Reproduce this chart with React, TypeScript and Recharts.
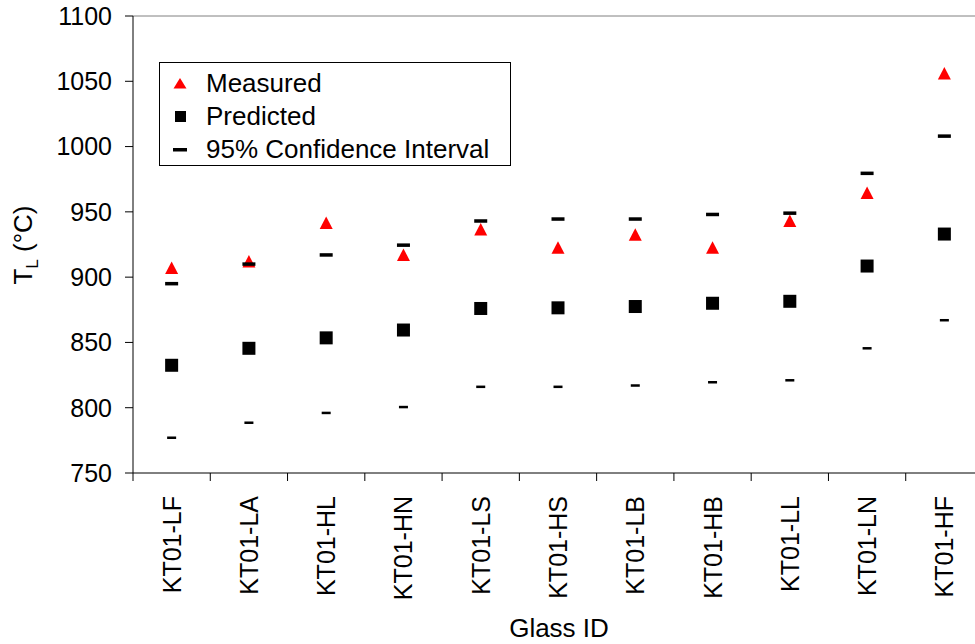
import {
  ScatterChart,
  Scatter,
  XAxis,
  YAxis,
  Legend,
  ReferenceLine,
} from 'recharts'

const FONT = '"Liberation Sans", Arial, sans-serif'

const categories = [
  'KT01-LF', 'KT01-LA', 'KT01-HL', 'KT01-HN', 'KT01-LS', 'KT01-HS',
  'KT01-LB', 'KT01-HB', 'KT01-LL', 'KT01-LN', 'KT01-HF',
]
const measured = [907, 912, 941.5, 917, 936.5, 922.5, 932.5, 922.5, 943, 964.5, 1056]
const predicted = [832.5, 845.5, 853.5, 859.5, 876, 876.5, 877.5, 880, 881.5, 908.5, 933]
const ciUpper = [895, 910, 917, 924.5, 943, 944.5, 944.5, 948, 949, 979.5, 1008]
const ciLower = [777, 788.5, 796, 800.5, 816, 816, 817, 819.5, 821, 845.5, 867]
const yTicks = [750, 800, 850, 900, 950, 1000, 1050, 1100]

// category i sits in the middle of band [i, i+1]
const toPoints = (vals: number[]) => vals.map((v, i) => ({ x: i + 0.5, y: v }))
const xTicks = Array.from({ length: categories.length * 2 + 1 }, (_, i) => i / 2)

const Triangle = ({ cx, cy }: any) => (
  <path d={`M${cx},${cy - 6.5} L${cx + 6.5},${cy + 6} L${cx - 6.5},${cy + 6} Z`} fill="#ff0000" />
)
const Square = ({ cx, cy }: any) => (
  <rect x={cx - 6.5} y={cy - 6.5} width={13} height={13} fill="#000" />
)
const UpperDash = ({ cx, cy }: any) => (
  <rect x={cx - 6.5} y={cy - 1.75} width={13} height={3.5} fill="#000" />
)
const LowerDash = ({ cx, cy }: any) => (
  <rect x={cx - 4.5} y={cy - 1.25} width={9} height={2.5} fill="#000" />
)

function XTick({ x, y, payload }: any) {
  const v = payload.value
  if (Number.isInteger(v)) {
    return <line x1={x} y1={y} x2={x} y2={y + 8} stroke="#000" />
  }
  const ty = y + 23
  return (
    <text
      x={x}
      y={ty}
      dy="0.36em"
      transform={`rotate(-90, ${x}, ${ty})`}
      textAnchor="end"
      fontSize={25}
      fontFamily={FONT}
      fill="#000"
    >
      {categories[Math.floor(v)]}
    </text>
  )
}

function YTitle() {
  return (
    <text
      x={32}
      y={245}
      transform="rotate(-90, 32, 245)"
      textAnchor="middle"
      fontSize={26}
      fontFamily={FONT}
      fill="#000"
    >
      T<tspan dy={6} fontSize={17}>L</tspan>
      <tspan dy={-6}> (°C)</tspan>
    </text>
  )
}

function XTitle() {
  return (
    <text x={559} y={637} textAnchor="middle" fontSize={26} fontFamily={FONT} fill="#000">
      Glass ID
    </text>
  )
}

function LegendBox() {
  const row = { display: 'flex', alignItems: 'center', height: 33 } as const
  const icon = { width: 30, height: 33, marginLeft: 5, marginRight: 11 } as const
  return (
    <div
      style={{
        width: 352,
        height: 104,
        boxSizing: 'border-box',
        border: '1px solid #000',
        background: '#fff',
        paddingTop: 4,
        fontFamily: FONT,
        fontSize: 26,
        color: '#000',
        lineHeight: '33px',
      }}
    >
      <div style={row}>
        <svg style={icon}>
          <path d="M15,11 L21.5,21.5 L8.5,21.5 Z" fill="#ff0000" />
        </svg>
        <span>Measured</span>
      </div>
      <div style={row}>
        <svg style={icon}>
          <rect x={10} y={11} width={11} height={11} fill="#000" />
        </svg>
        <span>Predicted</span>
      </div>
      <div style={row}>
        <svg style={icon}>
          <rect x={8} y={15} width={14} height={3.5} fill="#000" />
        </svg>
        <span>95% Confidence Interval</span>
      </div>
    </div>
  )
}

export default function App() {
  return (
    <div
      style={{
        position: 'fixed',
        left: 0,
        top: 0,
        width: 975,
        height: 644,
        overflow: 'hidden',
        background: '#fff',
        fontFamily: FONT,
      }}
    >
      <ScatterChart width={990} height={644} margin={{ top: 16, right: 7, left: 0, bottom: 0 }}>
        <XAxis
          type="number"
          dataKey="x"
          domain={[0, categories.length]}
          ticks={xTicks}
          interval={0}
          tick={XTick}
          tickLine={false}
          tickSize={0}
          tickMargin={0}
          axisLine={{ stroke: '#000' }}
          height={171}
          label={<XTitle />}
        />
        <YAxis
          type="number"
          dataKey="y"
          domain={[750, 1100]}
          ticks={yTicks}
          interval={0}
          width={133}
          tickSize={8}
          tickMargin={13}
          tickLine={{ stroke: '#000' }}
          axisLine={{ stroke: '#000' }}
          tick={{ fontSize: 25, fill: '#000', fontFamily: FONT }}
          label={<YTitle />}
        />
        <ReferenceLine y={1100} stroke="#808080" />
        <Legend
          layout="vertical"
          align="center"
          verticalAlign="middle"
          wrapperStyle={{ left: 159, top: 62, width: 352 }}
          content={<LegendBox />}
        />
        <Scatter name="Measured" data={toPoints(measured)} shape={Triangle} isAnimationActive={false} />
        <Scatter name="Predicted" data={toPoints(predicted)} shape={Square} isAnimationActive={false} />
        <Scatter name="95% Confidence Interval" data={toPoints(ciUpper)} shape={UpperDash} isAnimationActive={false} />
        <Scatter name="95% CI lower" data={toPoints(ciLower)} shape={LowerDash} isAnimationActive={false} />
      </ScatterChart>
    </div>
  )
}
